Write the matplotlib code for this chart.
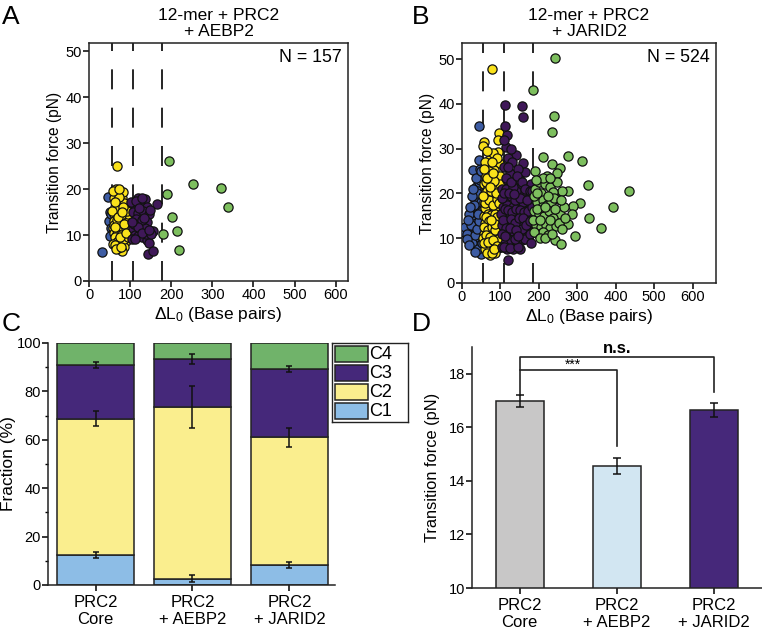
import matplotlib
matplotlib.use("Agg")
import matplotlib.pyplot as plt
from matplotlib.patches import Rectangle

plt.rcParams['font.family'] = ['Liberation Sans', 'DejaVu Sans']
plt.rcParams['mathtext.default'] = 'regular'
plt.rcParams['axes.linewidth'] = 1.1
plt.rcParams['axes.edgecolor'] = '#222222'

# ---- panel A : 12-mer + PRC2 + AEBP2 (dL0 bp, force pN)
a_c1 = [(32, 6.4), (46, 18.2), (50, 15.1), (48, 13.1), (53, 11.6), (52, 9.8), (54, 14.5)]
a_c2 = [(69, 25.1), (66, 20), (70, 19.5), (76, 19), (80, 18), (62, 18), (68, 17.5), (73, 17),
        (85, 16.5), (90, 16), (64, 16), (78, 15.5), (72, 15), (60, 14.5), (83, 14), (67, 14.2),
        (75, 13.5), (88, 13), (62, 13), (70, 12.5), (79, 12.2), (93, 12), (58, 11.5), (66, 11.5),
        (84, 11), (73, 11), (97, 10.7), (61, 10.5), (69, 10.2), (77, 10), (87, 9.8), (64, 9.5),
        (72, 9), (81, 8.7), (90, 8.8), (67, 8.5), (59, 8), (75, 8), (84, 7.5), (80, 6.6),
        (71, 7.2), (63, 7.8), (86, 17), (82, 19.3), (78, 12.8), (95, 14.5), (74, 18.2), (66, 15.5),
        (89, 11.5), (60, 12.2), (71, 16.2), (77, 14.3), (85, 9.2), (68, 13.3), (92, 15.2),
        (57, 15.2), (63, 17.2), (82, 16), (94, 9.5), (65, 7), (76, 9.5), (70, 14), (86, 12.5),
        (91, 10.5), (58, 19.5), (74, 20), (80, 15), (63, 11.8), (78, 7.3)]
a_c3 = [(118, 18), (125, 17.5), (135, 17.8), (112, 16.5), (128, 16), (140, 16.2), (166, 16.8),
        (106, 15), (120, 14.8), (132, 15.2), (145, 14.5), (115, 13.5), (142, 12.8), (108, 11.5),
        (125, 11), (135, 11.5), (113, 10), (120, 9.8), (130, 9.5), (150, 10.5), (156, 10.8),
        (104, 9.2), (140, 9), (145, 8.3), (144, 5.8), (156, 6.6), (110, 12.5), (128, 13.2),
        (138, 10.2), (152, 10.2), (102, 17.2), (115, 17.5), (122, 15.8), (130, 18), (148, 15.5),
        (118, 11.8), (128, 10.5), (134, 13.8), (105, 12.8), (111, 9.2), (147, 11)]
a_c4 = [(194, 26.2), (190, 18.9), (201, 14.0), (179, 10.2), (215, 10.8), (219, 6.8),
        (252, 21.1), (322, 20.3), (339, 16.1)]

# ---- panel B : 12-mer + PRC2 + JARID2
b_c1 = [(45, 35), (28, 25.2), (48, 25.4), (10, 11.8), (15, 10.5), (20, 12), (25, 11), (5, 11.5),
        (18, 13.5), (30, 12.5), (22, 14.8), (35, 14), (40, 13), (28, 16), (38, 16.5), (45, 17),
        (33, 18.5), (42, 19), (48, 21), (36, 21.5), (25, 15.2), (12, 12.8), (30, 9.5), (40, 10),
        (46, 8.5), (50, 7), (44, 11.5), (38, 8), (50, 12), (47, 15), (49, 18), (32, 11),
        (20, 10.2), (43, 22.5), (52, 20), (50, 6.5), (8, 12.5), (14, 11), (18, 15.5), (24, 13),
        (27, 9), (35, 10.8), (42, 7.5), (38, 12), (45, 13.8), (52, 16), (30, 17.5), (40, 20),
        (47, 23), (34, 7), (26, 19.5), (16, 14), (22, 17), (12, 9.8), (53, 9), (41, 15.5),
        (36, 23.5), (50, 25), (44, 27.5), (29, 21), (19, 8.5)]
b_c2 = [(78, 47.8), (56, 31.6), (54, 30.6), (95, 33.4), (93, 31.9), (93, 29.3), (69, 27.5),
        (95, 26.9), (84, 25.2), (80, 29), (60, 27), (63, 24), (75, 23), (88, 23.5), (57, 22),
        (68, 21.5), (80, 21), (92, 21), (61, 20), (72, 19.5), (85, 19), (97, 19.5), (58, 18),
        (66, 17.5), (77, 18), (90, 17.5), (63, 16), (74, 16), (83, 16.5), (95, 16), (56, 15),
        (69, 14.5), (80, 14.8), (88, 14.2), (60, 13.5), (73, 13), (84, 12.8), (93, 13), (65, 12),
        (77, 11.5), (90, 11.8), (58, 11), (70, 10.5), (82, 10.2), (96, 10.8), (62, 9.5), (75, 9),
        (87, 9.3), (66, 8), (79, 8), (93, 7.8), (71, 7), (85, 6.8), (60, 7.5), (98, 8.5),
        (74, 6.3), (55, 10), (64, 19), (86, 21.8), (71, 25), (57, 25.5), (90, 28), (66, 29.5),
        (99, 24), (78, 27), (59, 16.8), (67, 15.5), (76, 15.2), (86, 15.5), (97, 14.5),
        (62, 14.8), (71, 13.8), (81, 13.5), (91, 14.8), (57, 12.5), (68, 11.8), (79, 12.5),
        (88, 11), (99, 12), (63, 10.8), (74, 10.3), (85, 11.8), (94, 9.8), (58, 9), (68, 9.2),
        (80, 9.5), (90, 8.2), (65, 6.8), (77, 6.8), (83, 7.5), (60, 17.8), (70, 18.5), (81, 17.5),
        (92, 18.8), (65, 20.5), (76, 20.5), (89, 20), (98, 22), (62, 22.5), (83, 22.8), (73, 21.5),
        (95, 17.8), (55, 19.5), (86, 13.2), (75, 14), (66, 23.5), (80, 24.5)]
b_c3 = [(111, 39.8), (155, 39.6), (160, 37), (117, 33), (115, 30.4), (140, 28.6), (159, 26.7),
        (164, 24.9), (117, 23), (121, 5.2), (152, 7.7), (110, 32), (120, 28), (130, 27),
        (108, 26), (105, 21), (125, 21.5), (145, 22), (170, 21.5), (180, 22), (135, 24),
        (150, 23), (112, 19), (128, 19.5), (142, 19), (158, 20), (174, 19), (185, 18.5),
        (106, 17), (118, 17.5), (133, 17), (148, 17.5), (163, 17), (178, 16.5), (110, 15),
        (124, 15.5), (138, 15), (153, 15.2), (168, 15), (183, 15), (104, 13), (116, 13.5),
        (130, 13), (145, 13), (160, 13.2), (175, 12.5), (108, 11), (122, 11), (136, 11.5),
        (150, 11), (165, 11), (180, 11.5), (112, 9), (127, 9.5), (142, 9), (157, 9.5), (172, 10),
        (118, 7.5), (133, 7.5), (104, 8), (140, 20.5), (160, 18), (125, 24.5), (170, 14),
        (115, 21), (155, 12), (185, 13.5), (147, 25.5), (133, 21.5), (103, 19),
        (102, 15.5), (112, 16.5), (121, 16.2), (131, 15.8), (141, 16.5), (151, 16.2), (161, 15.8),
        (171, 16), (181, 17), (106, 14), (115, 12.2), (127, 14.2), (137, 13.5), (148, 14.5),
        (158, 14.5), (167, 13), (178, 13.8), (103, 11), (113, 10.5), (126, 12.2), (140, 11.8),
        (152, 10), (163, 9.8), (176, 11), (110, 8), (124, 7.8), (146, 8), (137, 9.8), (115, 23.5),
        (128, 22.5), (143, 24), (157, 22.5), (165, 21), (176, 20.5), (108, 20), (122, 20),
        (137, 18.5), (152, 19), (168, 18.5), (183, 20.5), (120, 26), (128, 30), (112, 35),
        (135, 19.8), (145, 10.5), (180, 9)]
b_c4 = [(243, 50.2), (184, 43), (240, 37.3), (234, 33.7), (212, 28.2), (275, 28.4), (311, 27.3),
        (235, 26.6), (255, 25.6), (246, 24.6), (435, 20.5), (392, 17), (328, 21.9), (307, 17.9),
        (290, 17.2), (330, 14.6), (362, 12.3), (295, 10.4), (242, 9.7), (257, 8.6), (277, 13.2),
        (275, 20.5), (249, 18.7), (255, 15.5), (190, 21), (200, 22.5), (215, 22), (228, 21.5),
        (205, 20), (195, 18), (210, 18.5), (222, 17.5), (232, 18), (188, 16), (200, 15.5),
        (214, 15), (226, 16), (238, 14.5), (192, 13), (205, 12.5), (218, 13), (230, 12.3),
        (245, 12.8), (198, 11), (212, 11.5), (225, 10.8), (265, 17), (285, 15.5), (190, 25),
        (220, 24), (260, 20.5), (236, 20.3), (188, 19.5), (208, 17), (242, 16.5),
        (186, 14), (194, 16.5), (203, 14), (216, 17), (228, 14), (240, 19), (252, 13.5),
        (196, 20), (210, 23.5), (224, 19.5), (248, 22.5), (188, 11.5), (202, 10), (216, 10),
        (233, 11), (260, 12), (268, 14.5), (258, 18.5), (193, 23), (230, 23.5)]

a_cuts = [55, 107, 178]
b_cuts = [54, 110, 186]

# ---- panel C : fraction of classes (%)
groups = ['PRC2\nCore', 'PRC2\n+ AEBP2', 'PRC2\n+ JARID2']
c1 = [12.5, 2.6, 8.2]
c2_top = [68.8, 73.7, 61.0]
c3_top = [90.9, 93.4, 89.4]
c1_err = [1.3, 1.4, 1.2]
c2_err = [3.1, 8.7, 3.9]
c3_err = [1.1, 2.0, 1.3]
classes = ['C4', 'C3', 'C2', 'C1']

# ---- panel D : mean transition force (pN)
force = [16.97, 14.55, 16.66]
force_err = [0.22, 0.30, 0.26]

col_sc = {'C1': '#3D5CA3', 'C2': '#F9E11B', 'C3': '#3F1858', 'C4': '#7DBF5E'}
col_bar = {'C1': '#8DBDE6', 'C2': '#FAEE8E', 'C3': '#45287A', 'C4': '#70B36A'}
col_d = ['#C8C7C7', '#D2E6F2', '#46287A']

W, H = 762, 637
fig = plt.figure(figsize=(W / 100, H / 100), dpi=100)


def px(l, t, r, b):
    return [l / W, 1 - b / H, (r - l) / W, (b - t) / H]


def scatter_panel(rect, clusters, cuts, xmax, ymax, title, ntext):
    ax = fig.add_axes(rect)
    for c in cuts:
        ax.axvline(c, color='black', lw=1.2, linestyle=(0, (12, 11)), zorder=1)
    for name, pts in clusters:
        xs = [p[0] for p in pts]
        ys = [p[1] for p in pts]
        ax.scatter(xs, ys, s=44, c=col_sc[name], edgecolors='#111111', linewidths=0.9, zorder=3)
    ax.set_xlim(0, xmax)
    ax.set_ylim(0, ymax)
    ax.set_xticks([0, 100, 200, 300, 400, 500, 600])
    ax.set_yticks([0, 10, 20, 30, 40, 50])
    ax.tick_params(direction='out', length=4, width=1.1, labelsize=10.5, pad=1)
    ax.set_ylabel('Transition force (pN)', fontsize=11.2, labelpad=3)
    ax.set_xlabel(r'ΔL$_0$ (Base pairs)', fontsize=12.5, labelpad=2)
    ax.set_title(title, fontsize=12.5, linespacing=1.1, pad=5)
    ax.text(0.975, 0.975, ntext, transform=ax.transAxes, ha='right', va='top', fontsize=12.8)
    return ax


scatter_panel(px(89, 43, 348, 281),
              [('C1', a_c1), ('C2', a_c2), ('C3', a_c3), ('C4', a_c4)],
              a_cuts, 630, 51.8, '12-mer + PRC2\n+ AEBP2', 'N = 157')
scatter_panel(px(462, 43, 716, 283),
              [('C1', b_c1), ('C2', b_c2), ('C3', b_c3), ('C4', b_c4)],
              b_cuts, 661, 53.6, '12-mer + PRC2\n+ JARID2', 'N = 524')

# ---- panel C
axc = fig.add_axes(px(48, 343, 335, 585))
x = range(len(groups))
c2 = [t - b for t, b in zip(c2_top, c1)]
c3 = [t - b for t, b in zip(c3_top, c2_top)]
c4 = [100 - t for t in c3_top]
kw = dict(width=0.8, edgecolor='#222222', linewidth=1.1, zorder=2)
axc.bar(x, c1, color=col_bar['C1'], **kw)
axc.bar(x, c2, bottom=c1, color=col_bar['C2'], **kw)
axc.bar(x, c3, bottom=c2_top, color=col_bar['C3'], **kw)
axc.bar(x, c4, bottom=c3_top, color=col_bar['C4'], **kw)
for vals, errs in [(c1, c1_err), (c2_top, c2_err), (c3_top, c3_err)]:
    axc.errorbar(x, vals, yerr=errs, fmt='none', ecolor='#111111', elinewidth=1.1,
                 capsize=2.5, capthick=1.1, zorder=4)
axc.set_xlim(-0.49, 2.47)
axc.set_ylim(0, 100)
axc.set_yticks([0, 20, 40, 60, 80, 100])
axc.set_yticks([10, 30, 50, 70, 90], minor=True)
axc.set_xticks(list(x))
axc.set_xticklabels(groups)
axc.tick_params(axis='y', direction='out', length=4, width=1.1, labelsize=10.5, pad=1)
axc.tick_params(axis='y', which='minor', direction='out', length=2.5, width=1.0)
axc.tick_params(axis='x', direction='out', length=4, width=1.1, labelsize=12, pad=3)
axc.spines['top'].set_visible(False)
axc.spines['right'].set_visible(False)
axc.set_ylabel('Fraction (%)', fontsize=12.5)
axc.yaxis.set_label_coords(-0.112, 0.5)

# legend box for panel C (pixel units inside a small axes)
axl = fig.add_axes(px(332, 343, 408, 422))
axl.set_xlim(0, 76)
axl.set_ylim(79, 0)
axl.set_xticks([])
axl.set_yticks([])
for sp in axl.spines.values():
    sp.set_linewidth(1.0)
for i, k in enumerate(classes):
    y0 = 3 + 19 * i
    axl.add_patch(Rectangle((2.5, y0), 33, 16, facecolor=col_bar[k], edgecolor='#222222', lw=1.1))
    axl.text(37, y0 + 8.5, k, fontsize=13, ha='left', va='center')

# ---- panel D
axd = fig.add_axes(px(472, 347, 762, 588))
axd.bar(x, force, width=0.49, color=col_d, edgecolor='#222222', linewidth=1.1, zorder=2)
axd.errorbar(x, force, yerr=force_err, fmt='none', ecolor='#111111', elinewidth=1.1,
             capsize=3, capthick=1.1, zorder=4)
axd.set_xlim(-0.49, 2.49)
axd.set_ylim(10, 19)
axd.set_yticks([10, 12, 14, 16, 18])
axd.set_xticks(list(x))
axd.set_xticklabels(groups)
axd.tick_params(axis='y', direction='out', length=4, width=1.1, labelsize=10.5, pad=1)
axd.tick_params(axis='x', direction='out', length=4, width=1.1, labelsize=12, pad=3)
axd.spines['top'].set_visible(False)
axd.spines['right'].set_visible(False)
axd.set_ylabel('Transition force (pN)', fontsize=11.8, labelpad=6)

# significance brackets
axd.plot([0, 0, 2, 2], [17.19, 18.64, 18.64, 17.31], color='#222222', lw=1.2, clip_on=False)
axd.plot([0, 1, 1], [18.15, 18.15, 15.29], color='#222222', lw=1.2, clip_on=False)
axd.text(1.0, 18.68, 'n.s.', ha='center', va='bottom', fontsize=12, fontweight='bold')
axd.text(0.55, 18.08, '***', ha='center', va='bottom', fontsize=10)

# panel letters
for letter, lx, ly in [('A', 2, 5), ('B', 412, 5), ('C', 2, 312), ('D', 412, 312)]:
    fig.text(lx / W, 1 - ly / H, letter, fontsize=19, ha='left', va='top')

fig.savefig('out.png', dpi=100)
